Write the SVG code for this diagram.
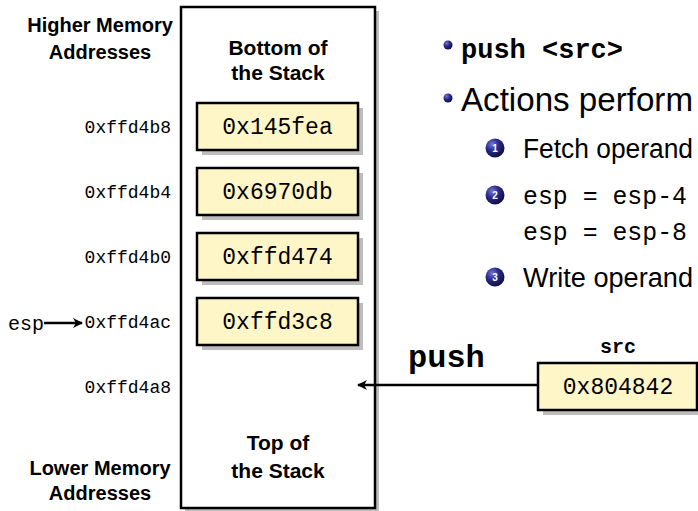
<svg xmlns="http://www.w3.org/2000/svg" width="698" height="511" viewBox="0 0 698 511">
  <defs>
    <style>
      .lbl{font-family:"Liberation Sans",Arial,sans-serif;font-weight:bold;font-size:20px;text-anchor:middle;fill:#000}
      .addr{font-family:"Liberation Mono","Courier New",monospace;font-size:18px;text-anchor:end;fill:#000}
      .val{font-family:"Liberation Mono","Courier New",monospace;font-size:23px;text-anchor:middle;fill:#000}
      .cell{fill:#fff6c8;stroke:#000;stroke-width:2.5}
      .shadow{fill:#bdbdbd}
      .body{font-family:"Liberation Sans",Arial,sans-serif;fill:#000}
      .code{font-family:"Liberation Mono","Courier New",monospace;fill:#000}
      .num{font-family:"Liberation Sans",Arial,sans-serif;font-size:10px;font-weight:bold;fill:#fff;text-anchor:middle}
      .wire{stroke:#000;stroke-width:2.5;fill:none}
    </style>
    <radialGradient id="ball" cx="0.35" cy="0.3" r="0.75">
      <stop offset="0" stop-color="#7777d8"/>
      <stop offset="0.45" stop-color="#2b2b8c"/>
      <stop offset="1" stop-color="#0c0c3e"/>
    </radialGradient>
    <marker id="tip" viewBox="0 0 10 10" refX="9" refY="5" markerWidth="4" markerHeight="4" orient="auto" markerUnits="strokeWidth">
      <path d="M0,0 L10,5 L0,10 L3,5 z" fill="#000"/>
    </marker>
  </defs>

  <!-- address range captions -->
  <g id="higher-caption">
    <text class="lbl" x="100" y="32">Higher Memory</text>
    <text class="lbl" x="100" y="59">Addresses</text>
  </g>
  <g id="lower-caption">
    <text class="lbl" x="100" y="475">Lower Memory</text>
    <text class="lbl" x="100" y="500">Addresses</text>
  </g>

  <!-- address column -->
  <g id="addresses">
    <text class="addr" x="171" y="133">0xffd4b8</text>
    <text class="addr" x="171" y="198">0xffd4b4</text>
    <text class="addr" x="171" y="263">0xffd4b0</text>
    <text class="addr" x="171" y="328">0xffd4ac</text>
    <text class="addr" x="171" y="393">0xffd4a8</text>
  </g>

  <!-- stack frame -->
  <g id="stack">
    <rect class="shadow" x="185" y="11" width="194" height="501"/>
    <rect x="181" y="7" width="194" height="501" fill="#fff" stroke="#000" stroke-width="2.5"/>
    <text class="lbl" x="278" y="55" style="font-size:21px">Bottom of</text>
    <text class="lbl" x="278" y="80" style="font-size:21px">the Stack</text>
    <text class="lbl" x="278" y="450" style="font-size:21px">Top of</text>
    <text class="lbl" x="278" y="478" style="font-size:21px">the Stack</text>
  </g>

  <!-- stack cells -->
  <g id="cell-0x145fea">
    <rect class="shadow" x="202" y="108" width="161" height="47"/>
    <rect class="cell" x="197" y="103" width="161" height="47"/>
    <text class="val" x="277.5" y="134">0x145fea</text>
  </g>
  <g id="cell-0x6970db">
    <rect class="shadow" x="202" y="173" width="161" height="47"/>
    <rect class="cell" x="197" y="168" width="161" height="47"/>
    <text class="val" x="277.5" y="199">0x6970db</text>
  </g>
  <g id="cell-0xffd474">
    <rect class="shadow" x="202" y="238" width="161" height="47"/>
    <rect class="cell" x="197" y="233" width="161" height="47"/>
    <text class="val" x="277.5" y="264">0xffd474</text>
  </g>
  <g id="cell-0xffd3c8">
    <rect class="shadow" x="202" y="303" width="161" height="47"/>
    <rect class="cell" x="197" y="298" width="161" height="47"/>
    <text class="val" x="277.5" y="329">0xffd3c8</text>
  </g>

  <!-- esp pointer label -->
  <g id="esp">
    <text class="code" x="8" y="330" style="font-size:20px">esp</text>
  </g>

  <!-- source operand -->
  <g id="src">
    <text class="code" x="618" y="353" style="font-size:20px;font-weight:bold;text-anchor:middle">src</text>
    <rect class="shadow" x="543" y="368" width="159" height="47"/>
    <rect class="cell" x="538" y="363" width="159" height="47"/>
    <text class="val" x="618" y="394">0x804842</text>
  </g>

  <g id="push-label">
    <text class="code" x="408" y="367" style="font-size:32px;font-weight:bold">push</text>
  </g>

  <!-- connectors -->
  <g id="connectors">
    <line class="wire" x1="44" y1="323" x2="82" y2="323" marker-end="url(#tip)"/>
    <line class="wire" x1="538" y1="385" x2="358" y2="385" marker-end="url(#tip)"/>
  </g>

  <!-- instruction notes -->
  <g id="notes">
    <circle cx="448" cy="45" r="4.5" fill="url(#ball)"/>
    <text class="code" x="461" y="58" style="font-size:27px;font-weight:bold">push &lt;src&gt;</text>
    <circle cx="448" cy="98" r="4.5" fill="url(#ball)"/>
    <text class="body" x="461" y="111" style="font-size:33px" textLength="232" lengthAdjust="spacingAndGlyphs">Actions perform</text>

    <circle cx="495" cy="148" r="9.5" fill="url(#ball)"/>
    <text class="num" x="495" y="152">1</text>
    <text class="body" x="523" y="158" style="font-size:27px" textLength="170" lengthAdjust="spacingAndGlyphs">Fetch operand</text>

    <circle cx="495" cy="195" r="9.5" fill="url(#ball)"/>
    <text class="num" x="495" y="199">2</text>
    <text class="code" x="523" y="204" style="font-size:26px" textLength="164" lengthAdjust="spacingAndGlyphs">esp = esp-4</text>
    <text class="code" x="523" y="240" style="font-size:26px" textLength="164" lengthAdjust="spacingAndGlyphs">esp = esp-8</text>

    <circle cx="495" cy="277" r="9.5" fill="url(#ball)"/>
    <text class="num" x="495" y="281">3</text>
    <text class="body" x="523" y="287" style="font-size:27px" textLength="170" lengthAdjust="spacingAndGlyphs">Write operand</text>
  </g>
</svg>
